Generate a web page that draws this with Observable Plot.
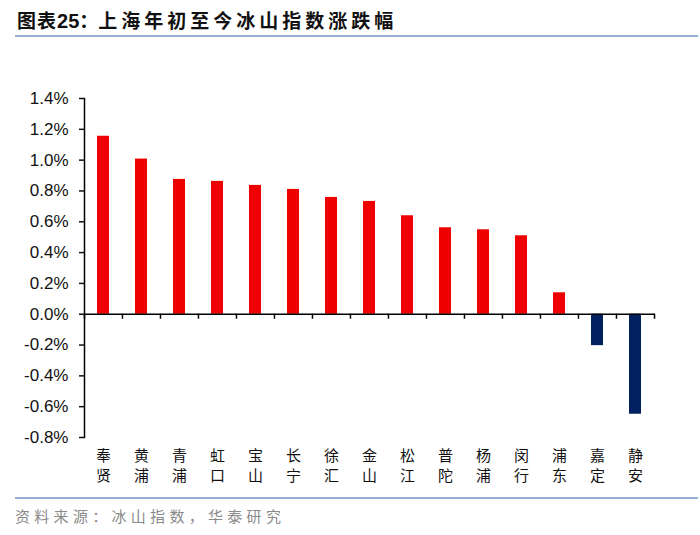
<!DOCTYPE html>
<html>
<head>
<meta charset="utf-8">
<script src="https://cdn.jsdelivr.net/npm/d3@7"></script>
<script src="https://cdn.jsdelivr.net/npm/@observablehq/plot@0.6"></script>
<style>
  html, body { margin: 0; padding: 0; background: #fff; }
  #wrap { position: relative; width: 700px; height: 535px; overflow: hidden; font-family: "Noto Sans CJK SC", sans-serif; }
  #title { position: absolute; left: 17px; top: 6px; font-size: 19px; font-weight: bold; color: #111; white-space: nowrap; }
  #title .lead { letter-spacing: 1px; }
  #title .num { font-family: "Liberation Sans", Arial, sans-serif; font-size: 20px; letter-spacing: 0; }
  #title .main { letter-spacing: 4px; margin-left: 0px; }
  .hline { position: absolute; left: 15px; width: 683px; height: 2px; background: #95AFCF; }
  #chart { position: absolute; left: 0; top: 40px; }
  #source { position: absolute; left: 15px; top: 505px; font-size: 15px; color: #8a8a8a; white-space: nowrap; letter-spacing: 4.3px; }
</style>
</head>
<body>
<div id="wrap">
  <div id="title"><span class="lead">图表</span><span class="num">25</span>：<span class="main">上海年初至今冰山指数涨跌幅</span></div>
  <div class="hline" style="top:35px"></div>
  <div id="chart"></div>
  <div class="hline" style="top:497px"></div>
  <div id="source">资料来源：冰山指数，华泰研究</div>
</div>
<script>
// Data (percent change, %)
const districts = ["奉贤","黄浦","青浦","虹口","宝山","长宁","徐汇","金山","松江","普陀","杨浦","闵行","浦东","嘉定","静安"];
const labels = ["奉\n贤","黄\n浦","青\n浦","虹\n口","宝\n山","长\n宁","徐\n汇","金\n山","松\n江","普\n陀","杨\n浦","闵\n行","浦\n东","嘉\n定","静\n安"];
const changes = [1.155, 1.007, 0.875, 0.862, 0.836, 0.810, 0.758, 0.732, 0.639, 0.561, 0.548, 0.509, 0.139, -0.204, -0.649];
const yTicks = [-0.8, -0.6, -0.4, -0.2, 0.0, 0.2, 0.4, 0.6, 0.8, 1.0, 1.2, 1.4];

const data = districts.map((d, i) => ({district: d, label: labels[i], value: changes[i]}));
const labelOf = new Map(districts.map((d, i) => [d, labels[i]]));

const W = 700, H = 450, mL = 84, mR = 45, mT = 58, mB = 53;
const step = (W - mL - mR) / districts.length;

const chart = Plot.plot({
  width: W,
  height: H,
  marginLeft: mL,
  marginRight: mR,
  marginTop: mT,
  marginBottom: mB,
  style: {fontFamily: "'Liberation Sans', Arial, sans-serif", fontSize: "17px", color: "#111", background: "transparent"},
  x: {domain: districts, paddingInner: 0.68, paddingOuter: 0.34, axis: null, label: null},
  y: {domain: [-0.8, 1.4], axis: null, label: null},
  marks: [
    Plot.barY(data, {x: "district", y: "value", fill: d => d.value >= 0 ? "#EE0000" : "#002060"}),
    Plot.ruleY([0], {stroke: "#000", strokeWidth: 1.5}),
    Plot.ruleX(districts, {x: d => d, y1: 0, y2: 0, insetBottom: -5, dx: -step / 2, stroke: "#000", strokeWidth: 1.5}),
    Plot.ruleX([districts[districts.length - 1]], {x: d => d, y1: 0, y2: 0, insetBottom: -5, dx: step / 2, stroke: "#000", strokeWidth: 1.5}),
    Plot.frame({anchor: "left", stroke: "#000", strokeWidth: 1.5}),
    Plot.axisY(yTicks, {anchor: "left", label: null, tickSize: 5, tickPadding: 11, strokeWidth: 1.5, tickFormat: d => d.toFixed(1) + "%", fontSize: 17}),
    Plot.axisX(districts, {anchor: "bottom", label: null, tickSize: 0, tickPadding: 9, tickFormat: d => labelOf.get(d), lineHeight: 1.33, fontSize: 15, fontFamily: "'Noto Sans CJK SC', sans-serif"})
  ]
});
document.getElementById("chart").appendChild(chart);
</script>
</body>
</html>
